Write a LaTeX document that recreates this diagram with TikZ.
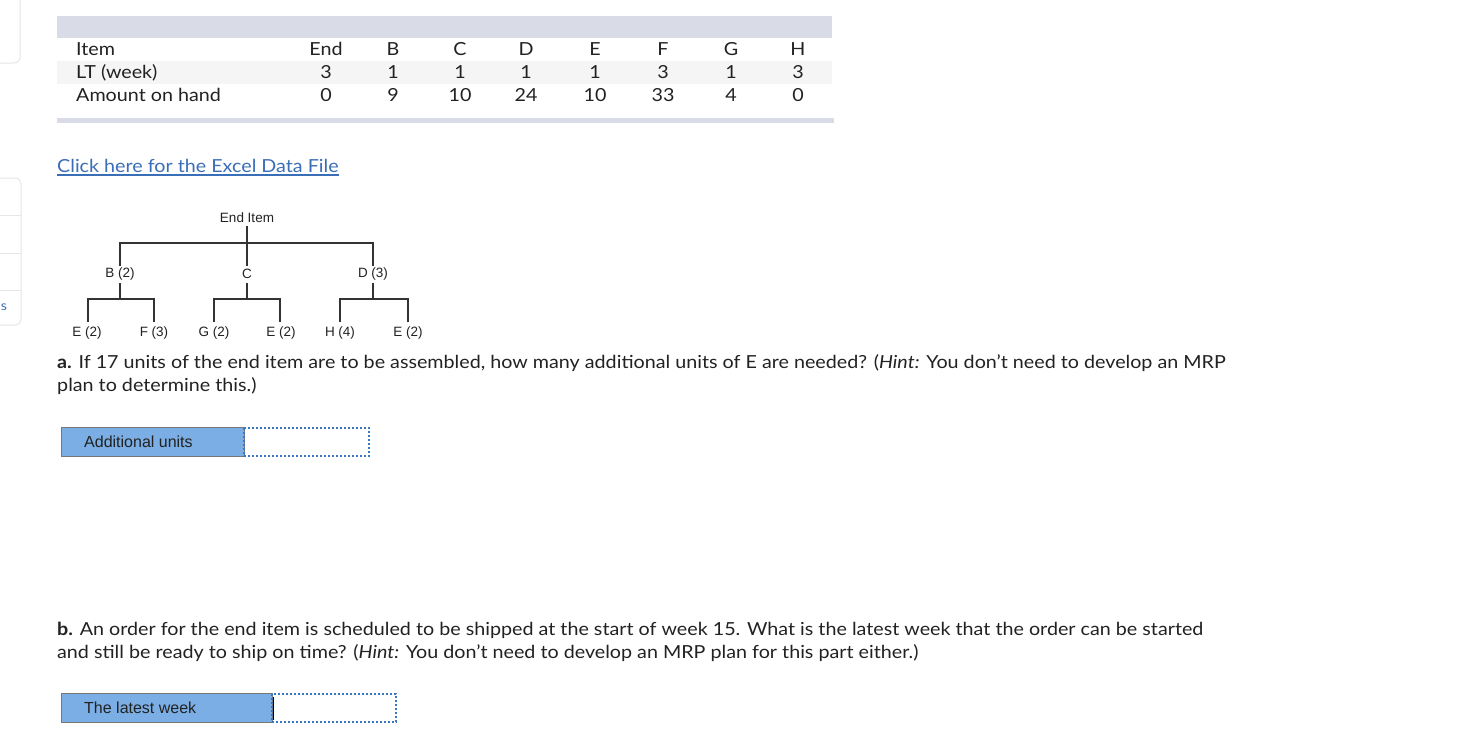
\documentclass[tikz,border=0pt]{standalone}
\usepackage{fontspec}
\setmainfont[FakeStretch=1.095]{Lato}
\newfontfamily\arialf{Liberation Sans}
\definecolor{band}{HTML}{D9DCE6}
\definecolor{rowgrey}{HTML}{F5F5F5}
\definecolor{txt}{HTML}{222222}
\definecolor{linkblue}{HTML}{3A6FB8}
\definecolor{boxblue}{HTML}{7AAEE5}
\definecolor{boxedge}{HTML}{777777}
\definecolor{dotblue}{HTML}{3A78C0}
\definecolor{uigrey}{HTML}{E6E6E6}
\definecolor{treeline}{HTML}{333333}
\tikzset{
  cell/.style={anchor=base,inner sep=0pt,font=\fontsize{18}{21}\selectfont,text=txt},
  lcell/.style={anchor=base west,inner sep=0pt,font=\fontsize{18}{21}\selectfont,text=txt},
  tlabel/.style={inner sep=0pt,font=\arialf\fontsize{13.5}{15}\selectfont,text=txt},
  tline/.style={draw=treeline,line width=1.3pt},
  qtext/.style={anchor=base west,inner sep=0pt,font=\fontsize{18}{22}\selectfont,text=txt},
  labelbox/.style={fill=boxblue,draw=boxedge,line width=1pt},
  inbox/.style={draw=dotblue,line width=1.8pt,dash pattern=on 2pt off 2pt},
  blabel/.style={anchor=west,inner sep=0pt,font=\arialf\fontsize{16}{18}\selectfont,text=txt},
}
\begin{document}
\begin{tikzpicture}[x=1pt,y=-1pt]
\useasboundingbox[fill=white] (0,0) rectangle (1462,740);
% left UI fragments
\draw[uigrey,line width=1pt,rounded corners=6pt] (-10,-10) -- (20,-10) -- (20,63) -- (-10,63);
\draw[uigrey,line width=1pt,rounded corners=6pt] (-10,178) -- (21,178) -- (21,325) -- (-10,325);
\draw[uigrey,line width=1pt] (-10,215) -- (21,215) (-10,253) -- (21,253) (-10,290) -- (21,290);
\node[inner sep=0pt,text=linkblue,font=\fontsize{13}{15}\selectfont] (sfrag) at (4,307) {s};
% table
\fill[band] (57,16) rectangle (832,38);
\fill[rowgrey] (57,61) rectangle (832,84);
\fill[band] (57,118) rectangle (834,123);
\node[lcell] (h0) at (76,55) {Item};
\node[lcell] (r1) at (76,78) {LT (week)};
\node[lcell] (r2) at (76,101) {Amount on hand};
\foreach \x/\a/\b/\c [count=\i] in {326/End/3/0, 393/B/1/9, 460/C/1/10, 526/D/1/24, 595/E/1/10, 663/F/3/33, 731/G/1/4, 798/H/3/0}{
  \node[cell] (ha\i) at (\x,55) {\a};
  \node[cell] (lt\i) at (\x,78) {\b};
  \node[cell] (oh\i) at (\x,101) {\c};
}
% link
\node[anchor=base west,inner sep=0pt,text=linkblue,font=\fontsize{18}{22}\selectfont] (link) at (57,172) {Click here for the Excel Data File};
\draw[linkblue,line width=1.2pt] ([yshift=-3pt]link.base west) -- ([yshift=-3pt]link.base east);
% tree
\node[tlabel] (end) at (247,218) {End Item};
\node[tlabel] (B) at (120,274) {B (2)};
\node[tlabel] (C) at (247,274) {C};
\node[tlabel] (D) at (373,274) {D (3)};
\node[tlabel] (E1) at (87,333) {E (2)};
\node[tlabel] (F) at (154,333) {F (3)};
\node[tlabel] (G) at (214,333) {G (2)};
\node[tlabel] (E2) at (281,333) {E (2)};
\node[tlabel] (H) at (340,333) {H (4)};
\node[tlabel] (E3) at (408,333) {E (2)};
\draw[tline] (247,226) -- (247,266);
\draw[tline] (120,266) -- (120,243) -- (373,243) -- (373,266);
\foreach \p/\l/\r in {120/88/154, 247/214/280, 373/340/408}{
  \draw[tline] (\p,283) -- (\p,299);
  \draw[tline] (\l,322) -- (\l,299) -- (\r,299) -- (\r,322);
}
% question a
\node[qtext] (qa1) at (57,368) {\textbf{a.} If 17 units of the end item are to be assembled, how many additional units of E are needed? (\textit{Hint:} You don't need to develop an MRP};
\node[qtext] (qa2) at (57,391) {plan to determine this.)};
\draw[labelbox] (61,427) rectangle (244,456);
\node[blabel] (la) at (84,442) {Additional units};
\draw[inbox] (244,428) rectangle (369,456);
% question b
\node[qtext] (qb1) at (57,635) {\textbf{b.} An order for the end item is scheduled to be shipped at the start of week 15. What is the latest week that the order can be started};
\node[qtext] (qb2) at (57,658) {and still be ready to ship on time? (\textit{Hint:} You don't need to develop an MRP plan for this part either.)};
\draw[labelbox] (61,693) rectangle (272,722);
\node[blabel] (lb) at (84,708) {The latest week};
\draw[inbox] (272,694) rectangle (396,722);
\draw[black,line width=1pt] (273,697) -- (273,720);
\end{tikzpicture}
\end{document}
